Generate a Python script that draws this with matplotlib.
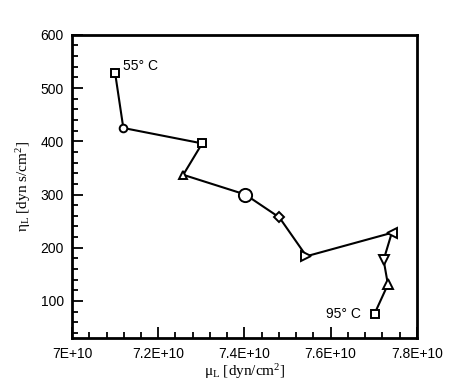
import matplotlib.pyplot as plt
from matplotlib.ticker import MultipleLocator, FuncFormatter

plt.rcParams['mathtext.fontset'] = 'custom'
plt.rcParams['mathtext.rm'] = 'Liberation Serif'
plt.rcParams['mathtext.it'] = 'Liberation Serif:italic'

# shear modulus mu_L [dyn/cm^2] and viscosity eta_L [dyn s/cm^2], 55 C -> 95 C
mu = [7.100e10, 7.119e10, 7.302e10, 7.258e10, 7.402e10, 7.481e10,
      7.544e10, 7.742e10, 7.723e10, 7.733e10, 7.702e10]
eta = [528, 425, 396, 337, 300, 257, 184, 228, 177, 131, 76]
markers = ['s', 'o', 's', '^', 'o', 'D', '>', '<', 'v', '^', 's']
sizes = [5.5, 5.5, 5.5, 6, 9.5, 5.5, 7, 7, 7, 7, 5.5]

fig = plt.figure(figsize=(4.56, 3.83), dpi=100)
ax = fig.add_axes([0.158, 0.117, 0.756, 0.792])

ax.plot(mu, eta, color='black', linewidth=1.5)
for x, y, m, s in zip(mu, eta, markers, sizes):
    ax.plot(x, y, marker=m, markersize=s, markerfacecolor='white',
            markeredgecolor='black', markeredgewidth=1.4, linestyle='none')

ax.text(7.119e10, 541, '55° C', fontsize=10, family='Liberation Sans', va='center')
ax.text(7.67e10, 76, '95° C', fontsize=10, family='Liberation Sans', va='center', ha='right')

ax.set_xlim(7.0e10, 7.8e10)
ax.set_ylim(30, 600)
ax.xaxis.set_major_locator(MultipleLocator(0.2e10))
ax.xaxis.set_minor_locator(MultipleLocator(0.04e10))
ax.yaxis.set_major_locator(MultipleLocator(100))
ax.yaxis.set_minor_locator(MultipleLocator(20))
ax.xaxis.set_major_formatter(FuncFormatter(
    lambda v, p: ('%gE+10' % round(v / 1e10, 3))))

ax.tick_params(which='both', direction='in', top=False, right=False, width=1.3)
ax.tick_params(which='major', length=8, labelsize=10, pad=6)
ax.tick_params(which='minor', length=4)
for lab in ax.get_xticklabels() + ax.get_yticklabels():
    lab.set_family('Liberation Sans')
for sp in ax.spines.values():
    sp.set_linewidth(2)

ax.set_xlabel('μ$_\\mathrm{L}$ [dyn/cm$^2$]', fontsize=11, family='Liberation Serif', labelpad=1)
ax.set_ylabel('η$_\\mathrm{L}$ [dyn s/cm$^2$]', fontsize=11, family='Liberation Serif', labelpad=5)

fig.savefig('out.png', dpi=100)
